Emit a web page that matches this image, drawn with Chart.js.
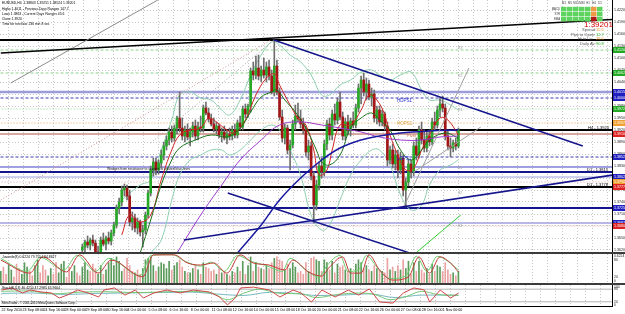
<!DOCTYPE html>
<html>
<head>
<meta charset="utf-8">
<script src="https://cdn.jsdelivr.net/npm/chart.js@4.4.1/dist/chart.umd.min.js"></script>
<style>
  html, body { margin: 0; padding: 0; background: #fff; }
  body { width: 625px; height: 314px; position: relative; overflow: hidden; }
  canvas { position: absolute; left: 0; }
  .sep { position: absolute; left: 0; width: 625px; height: 2px; background: #3c3c3c; }
</style>
</head>
<body>
<canvas id="main" width="625" height="253" style="top:0"></canvas>
<div class="sep" style="top:252px"></div>
<canvas id="osc1" width="625" height="29" style="top:254px"></canvas>
<div class="sep" style="top:283px"></div>
<canvas id="osc2" width="625" height="29" style="top:285px"></canvas>
<script>
// ---- data (EURUSD H4) ----
const firstBar = 31; // bar index of first visible candle (22 Sep 00:00 = bar 0)
const opens = [1.3620,1.36275,1.3640,1.36325,1.3645,1.36375,1.3615,1.36075,1.3645,1.3635,
  1.3650,1.36425,1.36625,1.36825,1.3725,1.3740,1.3770,1.3775,1.3755,1.3690,
  1.3700,1.3675,1.3690,1.3665,1.3670,1.37075,1.37625,1.3820,1.3840,1.3820,
  1.38375,1.38575,1.3880,1.3895,1.3915,1.3900,1.3925,1.3950,1.3925,1.3905,
  1.3920,1.39025,1.3915,1.3930,1.3905,1.39275,1.3925,1.3975,1.39625,1.39475,
  1.3935,1.39225,1.3930,1.39075,1.3915,1.3900,1.3910,1.3905,1.3920,1.39075,
  1.39375,1.39275,1.39725,1.3960,1.3980,1.40675,1.40575,1.4075,1.4055,1.4070,
  1.40575,1.40775,1.4055,1.4015,1.4080,1.4015,1.39525,1.3900,1.3925,1.3870,
  1.38825,1.3935,1.3955,1.39475,1.3935,1.3920,1.3865,1.3880,1.3805,1.37325,
  1.37825,1.3830,1.3815,1.3885,1.3935,1.39075,1.3960,1.3945,1.3990,1.39525,
  1.3905,1.3940,1.3920,1.39425,1.39325,1.3975,1.4025,1.4045,1.4015,1.4035,
  1.40025,1.4010,1.3950,1.3970,1.3940,1.3960,1.3930,1.3845,1.3870,1.3835,
  1.38575,1.3820,1.3850,1.3770,1.3790,1.3835,1.3815,1.3880,1.38575,1.3920,
  1.3895,1.3875,1.3905,1.3890,1.3940,1.39325,1.3970,1.3985,1.3975,1.3905,
  1.3880,1.3875,1.38875,1.3880];
const highs = [1.3635,1.3645,1.3655,1.3650,1.36575,1.3645,1.3630,1.36525,1.36625,1.3655,
  1.3665,1.3670,1.3690,1.37325,1.3750,1.3780,1.3785,1.37825,1.3770,1.3715,
  1.3710,1.3700,1.3695,1.36825,1.3715,1.3770,1.3830,1.3850,1.3850,1.3845,
  1.3870,1.3890,1.3905,1.3925,1.3930,1.39325,1.3955,1.4015,1.3950,1.3930,
  1.3935,1.3925,1.3940,1.3945,1.3940,1.3955,1.39825,1.3990,1.3975,1.3960,
  1.3950,1.3940,1.3935,1.3925,1.3930,1.3920,1.3925,1.3930,1.3935,1.3945,
  1.3955,1.3980,1.3985,1.3985,1.4075,1.4090,1.4105,1.41075,1.4080,1.4100,
  1.4090,1.4095,1.4070,1.4145,1.4095,1.4025,1.3970,1.3935,1.39325,1.3895,
  1.3945,1.39825,1.39875,1.3970,1.3950,1.3930,1.3895,1.3890,1.3815,1.3795,
  1.3840,1.3850,1.3895,1.3945,1.3950,1.3970,1.3985,1.4000,1.4015,1.3965,
  1.3950,1.39575,1.3950,1.3965,1.3985,1.4035,1.4055,1.40625,1.4050,1.4045,
  1.4025,1.4020,1.3980,1.3980,1.3970,1.3965,1.3940,1.3880,1.3885,1.3870,
  1.3870,1.3865,1.38575,1.3800,1.3845,1.3845,1.3890,1.3900,1.3930,1.3940,
  1.3920,1.3915,1.3920,1.3950,1.3965,1.3980,1.4000,1.4005,1.3985,1.3920,
  1.3900,1.3895,1.3900,1.3925];
const lows = [1.3600,1.3615,1.3625,1.3620,1.3630,1.3605,1.3595,1.3600,1.3630,1.3620,
  1.3635,1.36325,1.3655,1.3675,1.3710,1.3730,1.3755,1.3745,1.3680,1.3670,
  1.3665,1.3660,1.3655,1.36275,1.3660,1.3700,1.3755,1.3805,1.38075,1.3810,
  1.3825,1.3845,1.3870,1.38825,1.3890,1.38925,1.3910,1.3915,1.3895,1.3890,
  1.3895,1.3880,1.39025,1.3895,1.3895,1.3915,1.3915,1.39575,1.3940,1.3930,
  1.3915,1.3910,1.3900,1.3890,1.3895,1.3885,1.3895,1.3895,1.3900,1.3900,
  1.3920,1.3920,1.3950,1.39525,1.3965,1.4045,1.40475,1.4045,1.4040,1.4050,
  1.4040,1.4045,1.4010,1.4005,1.40075,1.3945,1.3890,1.3885,1.3860,1.3820,
  1.3875,1.3920,1.3940,1.3925,1.3910,1.3855,1.3845,1.3795,1.36875,1.3720,
  1.3770,1.3800,1.3805,1.3870,1.3895,1.3895,1.39325,1.3935,1.3945,1.3895,
  1.3895,1.39075,1.3905,1.3925,1.3925,1.3965,1.3985,1.4005,1.3995,1.3995,
  1.3980,1.3940,1.3935,1.3930,1.3930,1.3920,1.3830,1.3835,1.3825,1.3820,
  1.3800,1.3810,1.3755,1.37275,1.3780,1.3800,1.3805,1.3845,1.3850,1.3885,
  1.3865,1.3865,1.3880,1.38825,1.3920,1.3925,1.39525,1.3965,1.3895,1.3870,
  1.38525,1.3865,1.3870,1.3875];
const closes = [1.36275,1.3640,1.36325,1.3645,1.36375,1.3615,1.36075,1.3645,1.3635,1.3650,
  1.36425,1.36625,1.36825,1.3725,1.3740,1.3770,1.3775,1.3755,1.3690,1.3700,
  1.3675,1.3690,1.3665,1.3670,1.37075,1.37625,1.3820,1.3840,1.3820,1.38375,
  1.38575,1.3880,1.3895,1.3915,1.3900,1.3925,1.3950,1.3925,1.3905,1.3920,
  1.39025,1.3915,1.3930,1.3905,1.39275,1.3925,1.3975,1.39625,1.39475,1.3935,
  1.39225,1.3930,1.39075,1.3915,1.3900,1.3910,1.3905,1.3920,1.39075,1.39375,
  1.39275,1.39725,1.3960,1.3980,1.40675,1.40575,1.4075,1.4055,1.4070,1.40575,
  1.40775,1.4055,1.4015,1.4080,1.4015,1.39525,1.3900,1.3925,1.3870,1.38825,
  1.3935,1.3955,1.39475,1.3935,1.3920,1.3865,1.3880,1.3805,1.37325,1.37825,
  1.3830,1.3815,1.3885,1.3935,1.39075,1.3960,1.3945,1.3990,1.39525,1.3905,
  1.3940,1.3920,1.39425,1.39325,1.3975,1.4025,1.4045,1.4015,1.4035,1.40025,
  1.4010,1.3950,1.3970,1.3940,1.3960,1.3930,1.3845,1.3870,1.3835,1.38575,
  1.3820,1.3850,1.3770,1.3790,1.3835,1.3815,1.3880,1.38575,1.3920,1.3895,
  1.3875,1.3905,1.3890,1.3940,1.39325,1.3970,1.3985,1.3975,1.3905,1.3880,
  1.3875,1.38875,1.3880,1.3920];

const timeLabels = ["22 Sep 2010","23 Sep 08:00","24 Sep 16:00","28 Sep 00:00","29 Sep 08:00",
  "30 Sep 16:00","4 Oct 00:00","5 Oct 08:00","6 Oct 16:00","8 Oct 00:00","11 Oct 08:00",
  "12 Oct 16:00","14 Oct 00:00","15 Oct 08:00","18 Oct 16:00","20 Oct 00:00","21 Oct 08:00",
  "22 Oct 16:00","26 Oct 00:00","27 Oct 08:00","28 Oct 16:00","1 Nov 00:00"];
const barsPerLabel = 8;

// moving averages / bands: [bar, price]
const maFast = [[46,1.36575],[49,1.37075],[53,1.3690],[57,1.37075],[61,1.3795],[65,1.3870],[68,1.39075],
  [72,1.3920],[76,1.3925],[79,1.3950],[82,1.3940],[86,1.3920],[89,1.39125],[93,1.3945],[97,1.40075],
  [101,1.4050],[104,1.4060],[106,1.40325],[110,1.39825],[113,1.3950],[116,1.39325],[119,1.3870],
  [121,1.38075],[124,1.3820],[126,1.3870],[129,1.39325],[133,1.39325],[137,1.3970],[140,1.40075],
  [143,1.3995],[146,1.39575],[148,1.39075],[151,1.38575],[154,1.3820],[157,1.3825],[160,1.3870],
  [163,1.39075],[167,1.3950],[170,1.3945],[174,1.39075]];
const maMid = [[53,1.36125],[57,1.3695],[61,1.37825],[65,1.3845],[68,1.3875],[74,1.3895],[80,1.39075],
  [86,1.39025],[89,1.39125],[92,1.39325],[95,1.3965],[99,1.40025],[103,1.4015],[105,1.4020],[108,1.3995],
  [112,1.3965],[116,1.3925],[120,1.3870],[122,1.3840],[125,1.38325],[129,1.38575],[133,1.3925],
  [137,1.3950],[141,1.39625],[144,1.3945],[148,1.3920],[152,1.3870],[156,1.3845],[160,1.3870],
  [163,1.3895],[169,1.39125],[174,1.3900]];
const maSlow = [[67,1.36125],[76,1.37075],[84,1.37825],[91,1.3845],[99,1.3895],[106,1.39325],[114,1.3940],
  [122,1.39325],[129,1.3925],[137,1.3915],[144,1.39025],[152,1.3895],[160,1.3895],[167,1.39025],[174,1.3905]];
const maLong = [[90,1.36125],[99,1.36825],[106,1.3745],[114,1.3800],[122,1.3845],[129,1.3875],[137,1.3895],
  [144,1.3905],[152,1.39125],[163,1.39175],[174,1.3920]];
const bandUpper = [[46,1.3745],[53,1.37825],[57,1.3795],[61,1.3870],[65,1.3945],[68,1.40075],[72,1.4015],
  [76,1.4000],[80,1.3995],[84,1.3970],[87,1.39575],[91,1.3995],[95,1.40575],[99,1.41075],[103,1.4140],
  [106,1.41325],[110,1.41075],[114,1.4090],[118,1.40575],[122,1.40075],[125,1.40075],[129,1.40325],
  [133,1.4045],[137,1.4065],[141,1.4070],[144,1.40575],[148,1.4045],[152,1.40575],[156,1.4065],
  [160,1.4020],[163,1.3995],[167,1.3995],[171,1.39825],[174,1.3970]];
const bandLower = [[57,1.36125],[61,1.3645],[65,1.3745],[68,1.38075],[72,1.3845],[76,1.38575],[80,1.3870],
  [84,1.3870],[87,1.38575],[91,1.3870],[95,1.3895],[99,1.3920],[103,1.39325],[106,1.3920],[110,1.3870],
  [114,1.38075],[118,1.37075],[122,1.3670],[125,1.36825],[129,1.3745],[133,1.38075],[137,1.3845],
  [141,1.3870],[144,1.3870],[148,1.38325],[152,1.37575],[156,1.3720],[160,1.37325],[163,1.37825],
  [167,1.3820],[171,1.38325],[174,1.3845]];

// horizontal levels and drawn trend lines
const levels = [1.4145,1.4120,1.40625,1.4015,1.4000,1.39725,1.39375,1.3920,1.3910,1.38525,
  1.38275,1.3815,1.38025,1.3790,1.37775,1.3725,1.36875,1.3680];
const trendLines = [[0,1.41125,232.7,1.41963],[3.8,1.40375,59.7,1.4245],[0,1.3745,102.7,1.4145],
  [57,1.38875,103.8,1.4145],[103.8,1.4145,221.3,1.3880],[86.3,1.37625,157.8,1.36075],
  [69.6,1.3645,232.7,1.38075],[153.2,1.37275,178,1.4075],[157,1.3815,182.5,1.39275],
  [157.8,1.36125,174.9,1.37075]];

// sub-window 1: histogram (+ up / - down) and two signal lines
const histValues = [40,-55,-30,62,45,-20,-65,-50, 30,70,55,-40,-25,60,80,-35,
  -60,-45,25,50,-30,-70,35,65, 75,-20,-55,40,60,-35,-25,55, 70,45,-40,-65,-50,30,60,-30,
  45,70,85,60,90,75,40,-50, -85,-60,-40,35,-45,-30,50,80, 85,90,60,-40,55,70,65,50,
  75,-45,60,70,-80,-55,40,-35, 35,50,-60,45,-30,70,-55,-50, -40,-45,30,-50,35,-40,30,-25,
  40,-35,55,-40,75,-30,60,90, -40,70,-55,50,-45,60,-50,-70, 85,-90,-80,-75,45,-65,50,70,
  55,-35,-40,-30,-70,40,-85,-90, 80,75,-40,80,70,-45,75,-35, 65,-55,-60,45,-40,50,-30,65,
  80,70,-50,60,-45,40,-60,50, -45,40,-35,-85,45,-55,40,-60, 45,-80,50,75,-30,70,-40,75,
  -45,-35,50,-30,65,-40,60,55, -40,-70,-45,-30,35,-25,40];
const osc1Red = [[0,79],[11,34],[16,90],[25,38],[30,97],[37,34],[42,79],[54,21],[58,97],[66,97],[71,69],
  [76,62],[81,69],[86,34],[91,97],[96,69],[102,62],[108,45],[111,79],[117,38],[122,24],[125,55],[130,90],
  [133,34],[137,34],[140,97],[144,45],[149,10],[155,21],[159,90],[163,34],[167,90],[171,69],[174,38]];
const osc1Green = [[0,85],[10,40],[15,88],[24,45],[29,95],[36,40],[41,85],[53,25],[57,95],[65,98],[70,75],
  [76,58],[80,72],[85,40],[90,95],[95,75],[101,60],[107,40],[110,85],[116,45],[121,20],[124,60],[129,95],
  [132,40],[136,45],[139,95],[143,55],[148,15],[154,25],[158,92],[162,40],[166,92],[170,75],[174,45]];

// sub-window 2: stochastic-type lines
const osc2Red = [[0,76],[4,86],[8,62],[11,76],[15,67],[19,62],[22,38],[25,52],[29,76],[33,62],[37,43],
  [39,76],[43,86],[47,52],[51,76],[54,38],[58,62],[63,76],[68,62],[73,76],[79,67],[83,43],[86,5],[89,38],
  [91,86],[96,90],[102,76],[106,43],[111,76],[114,62],[118,19],[122,76],[127,43],[132,76],[136,52],
  [140,81],[144,19],[149,14],[153,62],[157,86],[161,76],[163,19],[167,76],[171,38],[174,62]];
const osc2Green = [[0,70],[10,72],[20,58],[30,66],[40,68],[50,64],[60,66],[70,70],[80,62],[86,30],[92,60],
  [98,80],[106,60],[114,58],[120,40],[128,55],[136,62],[142,55],[148,30],[154,45],[160,70],[166,55],[174,50]];
const osc2Teal = [[0,60],[12,62],[24,55],[36,60],[48,62],[60,64],[72,66],[84,55],[92,50],[102,65],[112,60],
  [120,50],[130,52],[140,58],[150,40],[160,52],[170,52],[174,52]];
const osc2Levels = [80, 20];

// ---- styles ----
const FONT = '"Liberation Sans", Arial, sans-serif';
const UP = '#27a827', DOWN = '#a31616', WICK = '#6e6e6e';
const NAVY = '#14148c';
const X_MIN = -0.3, X_MAX = 232.4;
const levelStyles = [
  {c:'#000', w:2}, {c:'#8fd08f', w:1, d:[3,2], tag:'#22aa22'}, {c:'#8fd08f', w:1, d:[3,2], tag:'#22aa22'},
  {c:'#9c9cdc', w:2.5, tag:'#2020c0'}, {c:'#3a3ab0', w:1, d:[3,2], tag:'#2020c0'},
  {c:'#8fd08f', w:1, d:[1,2], tag:'#22aa22'}, {c:'#e8a850', w:1, d:[1,2], tag:'#f0a030'},
  {c:'#000', w:2}, {c:'#d8a8a0', w:2, tag:'#dd2222'}, {c:'#3a3ab0', w:1, d:[3,2], tag:'#2020c0'},
  {c:'#a0a0e0', w:2}, {c:NAVY, w:2}, {c:'#a0a0e0', w:1, tag:'#2020c0'},
  {c:'#e0a0a0', w:1, d:[1,2], tag:'#f0a030'}, {c:'#000', w:2, tag:'#dd2222'},
  {c:NAVY, w:2, tag:'#2020c0'}, {c:'#a0a0e0', w:1.5, tag:'#2020c0'}, {c:'#e0a0a0', w:1, d:[1,2], tag:'#dd2222'}];
const trendStyles = [{c:'#000', w:1.5}, {c:'#8c8c8c', w:1}, {c:'#d09090', w:1, d:[1,2]}, {c:'#a8a8a8', w:1, d:[1,2]},
  {c:NAVY, w:1.5}, {c:NAVY, w:1.5}, {c:NAVY, w:1.5}, {c:'#a0a0a0', w:1}, {c:'#a0a0a0', w:1}, {c:'#33cc33', w:1}];

function lineDs(points, color, width, order, opts) {
  return Object.assign({
    type: 'line', data: points.map(p => ({x: p[0], y: p[1]})),
    borderColor: color, borderWidth: width, pointRadius: 0, fill: false, order: order,
    tension: 0
  }, opts || {});
}
function gridAxis() {
  return {type: 'linear', axis: 'x', position: 'bottom', min: X_MIN, max: X_MAX, offset: false,
    ticks: {display: false, stepSize: 5.7, includeBounds: false},
    grid: {color: '#c6c6c6', drawTicks: false},
    border: {display: false, dash: [1, 2]},
    afterFit(s) { s.height = 0; }};
}
function rightAxis(min, max, step, showGrid) {
  return {type: 'linear', position: 'right', min: min, max: max,
    ticks: {display: false, stepSize: step, includeBounds: false},
    grid: {display: showGrid, color: '#c6c6c6', drawTicks: false},
    border: {display: true, color: '#000', dash: [1, 2]},
    afterFit(s) { s.width = 13; }};
}
function txt(ctx, s, x, y, size, color, align) {
  ctx.font = size + 'px ' + FONT;
  ctx.fillStyle = color;
  ctx.textAlign = align || 'left';
  ctx.textBaseline = 'middle';
  ctx.fillText(s, x, y);
}

// ---- main price window ----
const barIdx = opens.map((o, i) => firstBar + i);
const datasets = [];
levels.forEach((p, i) => {
  const st = levelStyles[i];
  datasets.push(lineDs([[-2, p], [240, p]], st.c, st.w, 10, {borderDash: st.d || []}));
});
trendLines.forEach((t, i) => {
  const st = trendStyles[i];
  datasets.push(lineDs([[t[0], t[1]], [t[2], t[3]]], st.c, st.w, 1, {borderDash: st.d || []}));
});
datasets.push(lineDs(bandUpper, '#8fcfb0', 1, 8, {tension: 0.4}));
datasets.push(lineDs(bandLower, '#8fcfb0', 1, 8, {tension: 0.4}));
datasets.push({type: 'bar', data: barIdx.map((b, i) => ({x: b, y: [lows[i], highs[i]]})),
  backgroundColor: WICK, barThickness: 1, grouped: false, order: 6});
datasets.push({type: 'bar', data: barIdx.map((b, i) => ({x: b, y: [opens[i], closes[i]]})),
  backgroundColor: opens.map((o, i) => closes[i] >= o ? UP : DOWN),
  barThickness: 2, grouped: false, minBarLength: 1, order: 5});
datasets.push(lineDs(maLong, '#1a1aa0', 1.5, 3, {tension: 0.4}));
datasets.push(lineDs(maSlow, '#9a3acc', 1, 3, {tension: 0.4}));
datasets.push(lineDs(maMid, '#187018', 1, 3, {tension: 0.4}));
datasets.push(lineDs(maFast, '#d02424', 1, 3, {tension: 0.4}));

const mainDecor = {
  id: 'mainDecor',
  afterDraw(chart) {
    const {ctx, scales: {y}} = chart;
    ctx.save();
    // price scale labels
    y.ticks.forEach(t => txt(ctx, t.value.toFixed(5), 614, y.getPixelForValue(t.value), 3.6, '#222'));
    // coloured price tags of the levels
    levels.forEach((p, i) => {
      const tag = levelStyles[i].tag;
      if (!tag) return;
      const py = y.getPixelForValue(p);
      ctx.fillStyle = tag;
      ctx.fillRect(613, py - 3, 12, 6);
      txt(ctx, p.toFixed(5), 614, py + 0.3, 3.6, '#fff');
    });
    // line captions
    txt(ctx, 'H4 - ' + levels[7].toFixed(4), 588, y.getPixelForValue(levels[7]) - 2.5, 4, '#000');
    txt(ctx, 'D1 - ' + levels[11].toFixed(4), 587, y.getPixelForValue(levels[11]) - 2.5, 4, '#000');
    txt(ctx, 'D1 - ' + levels[14].toFixed(4), 587, y.getPixelForValue(levels[14]) - 2.5, 4, '#000');
    txt(ctx, 'HDPS1', 397, 101, 4.5, '#2a2acc');
    txt(ctx, 'HOPS1', 397, 123.5, 4.5, '#e0a040');
    txt(ctx, 'Pivot', 407, 136, 4, '#cc6644');
    txt(ctx, 'LDPS1', 397, 158.5, 4.5, '#2a2acc');
    [['R3', 48], ['R2', 76], ['R1', 110], ['S1', 168], ['S2', 193], ['S3', 226]]
      .forEach(r => txt(ctx, r[0], 458, r[1], 3.5, '#9a9a9a'));
    txt(ctx, 'Wedges from resistance to support at related blue lines', 107, 169.5, 3.4, '#111');
    // top-left info block
    ['EURUSD,H4  1.38803 1.39251 1.38524 1.39201', 'Highs 1.4011 - Previous Days Ranges 147.7',
     'Lows 1.3863 - Current Days Ranges 45.6', 'Close 1.3920', 'Time for next bar 236 min 8 sec']
      .forEach((s, i) => txt(ctx, s, 2, 3.5 + i * 5.2, 3.4, '#000'));
    // top-right signal table
    const cols = ['M1', 'M5', 'M15', 'M30', 'H1', 'H4', 'D1'];
    const rows = ['MACD', 'STR', 'EMA'];
    const cellColors = [['#5fd35f','#5fd35f','#5fd35f','#5fd35f','#5fd35f','#ee9944','#5fd35f'],
                        ['#5fd35f','#5fd35f','#5fd35f','#5fd35f','#5fd35f','#ee9944','#5fd35f'],
                        ['#5fd35f','#5fd35f','#5fd35f','#5fd35f','#5fd35f','#b01818','#5fd35f']];
    cols.forEach((c, j) => txt(ctx, c, 564 + j * 6, 3, 2.8, '#333', 'center'));
    rows.forEach((r, i) => {
      txt(ctx, r, 560, 9 + i * 5, 2.8, '#333', 'right');
      cols.forEach((c, j) => {
        ctx.fillStyle = cellColors[i][j];
        ctx.fillRect(561 + j * 6, 6.8 + i * 5, 5.5, 4.5);
      });
    });
    txt(ctx, '1:39201', 584, 24.5, 8, '#d40000');
    txt(ctx, 'Spread:', 582, 30, 4, '#555'); txt(ctx, '15.5', 596, 30, 4, '#e89020');
    txt(ctx, 'Pips to Open:', 571, 34.5, 4, '#555'); txt(ctx, '12.7', 596, 34.5, 4, '#20b020');
    txt(ctx, 'Hi to Lo:', 578, 38.5, 4, '#555'); txt(ctx, '26.5', 596, 38.5, 4, '#e89020');
    txt(ctx, 'Daily Av:', 580, 44, 4, '#555'); txt(ctx, '90.8', 596, 44, 4, '#20b020');
    ctx.restore();
  }
};

new Chart(document.getElementById('main'), {
  type: 'bar',
  data: {datasets: datasets},
  options: {
    responsive: false, animation: false, devicePixelRatio: 1,
    layout: {padding: 0},
    plugins: {legend: {display: false}, tooltip: {enabled: false}},
    scales: {
      x: {type: 'linear', min: X_MIN, max: X_MAX, display: false, offset: false},
      xg: gridAxis(),
      y: rightAxis(1.36125, 1.4245, 0.003, true)
    }
  },
  plugins: [mainDecor]
});

// ---- sub-window 1 ----
new Chart(document.getElementById('osc1'), {
  type: 'bar',
  data: {datasets: [
    {type: 'bar', data: histValues.map((v, i) => ({x: i, y: Math.abs(v)})),
      backgroundColor: histValues.map(v => v >= 0 ? '#5a9a5a' : '#eaa2a2'),
      barThickness: 1, grouped: false, order: 5},
    lineDs(osc1Green, '#6ccc6c', 1, 2, {cubicInterpolationMode: 'monotone'}),
    lineDs(osc1Red, '#c43a3a', 1, 1, {cubicInterpolationMode: 'monotone'})
  ]},
  options: {
    responsive: false, animation: false, devicePixelRatio: 1, layout: {padding: 0},
    plugins: {legend: {display: false}, tooltip: {enabled: false}},
    scales: {
      x: {type: 'linear', min: X_MIN, max: X_MAX, display: false, offset: false},
      xg: gridAxis(),
      y: rightAxis(0, 100, 20, false)
    }
  },
  plugins: [{
    id: 'osc1Decor',
    afterDraw(chart) {
      const {ctx, scales: {y}} = chart;
      txt(ctx, 'Juvenile(8) 0.6224 79.7554 84.8627', 2, 3.5, 3.4, '#000');
      txt(ctx, '0.6224', 614, 2.5, 3.4, '#222');
      [80, 20].forEach(v => txt(ctx, String(v), 614, y.getPixelForValue(v), 3.4, '#222'));
      txt(ctx, '0', 614, 27, 3.4, '#222');
    }
  }]
});

// ---- sub-window 2 + time axis ----
const osc2Ds = osc2Levels.map(v => lineDs([[-2, v], [240, v]], '#b4b4b4', 1, 9));
osc2Ds.push(lineDs(osc2Teal, '#78b8c0', 1, 3, {cubicInterpolationMode: 'monotone'}));
osc2Ds.push(lineDs(osc2Green, '#78c878', 1, 2, {cubicInterpolationMode: 'monotone'}));
osc2Ds.push(lineDs(osc2Red, '#d04848', 1, 1));
new Chart(document.getElementById('osc2'), {
  type: 'line',
  data: {datasets: osc2Ds},
  options: {
    responsive: false, animation: false, devicePixelRatio: 1, layout: {padding: 0},
    plugins: {legend: {display: false}, tooltip: {enabled: false}},
    scales: {
      x: {type: 'linear', position: 'bottom', min: X_MIN, max: X_MAX, offset: false,
        afterBuildTicks(s) { s.ticks = timeLabels.map((_, i) => ({value: i * barsPerLabel})); },
        ticks: {autoSkip: false, maxRotation: 0, align: 'start', padding: 1.5,
          font: {size: 3.6, family: FONT}, color: '#000', callback: (v, i) => timeLabels[i]},
        grid: {display: false, drawTicks: false},
        border: {display: true, color: '#000'},
        afterFit(s) { s.height = 8; }},
      xg: gridAxis(),
      y: rightAxis(0, 100, 20, false)
    }
  },
  plugins: [{
    id: 'osc2Decor',
    afterDraw(chart) {
      const {ctx, scales: {y}} = chart;
      txt(ctx, 'Stoch(8,3,3) 46.4210 47.2985 65.9604', 2, 3, 3.4, '#000');
      txt(ctx, 'MetaTrader - \u00a9 2001-2010 MetaQuotes Software Corp.', 2, 18.5, 3, '#000');
      txt(ctx, '100', 614, 1.8, 3.4, '#222');
      osc2Levels.forEach(v => txt(ctx, String(v), 614, y.getPixelForValue(v), 3.4, '#222'));
      txt(ctx, '0', 614, 20, 3.4, '#222');
    }
  }]
});
</script>
</body>
</html>
